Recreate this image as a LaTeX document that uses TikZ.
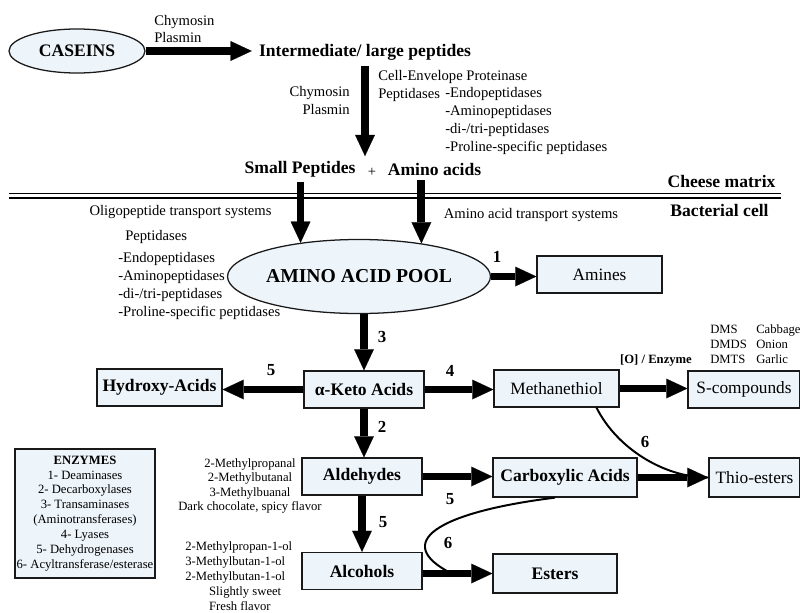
\documentclass[tikz,border=0pt]{standalone}
\usepackage{fontspec}
\setmainfont{Liberation Serif}
\usetikzlibrary{arrows.meta,shapes.geometric}

\definecolor{boxblue}{RGB}{237,244,250}
\newcommand{\boxbf}{\fontsize{12.5}{15}\selectfont\bfseries}
\newcommand{\boxrm}{\fontsize{12.3}{15}\selectfont}
\newcommand{\poolfont}{\fontsize{14}{16}\selectfont\bfseries}
\newcommand{\notefont}{\fontsize{10.4}{12.7}\selectfont}
\newcommand{\tinyfont}{\fontsize{9}{10.2}\selectfont}
\newcommand{\tinysp}{\fontsize{9}{10.6}\selectfont}
\newcommand{\numfont}{\fontsize{12}{14}\selectfont\bfseries}

\tikzset{
  box/.style={draw=black!90, line width=0.9pt, fill=boxblue, inner sep=0pt},
  oval/.style={ellipse, draw=black!90, line width=0.9pt, fill=boxblue, inner sep=0pt},
  bigarrow/.style={line width=5.6pt, -{Triangle[length=15pt,width=14pt,line width=0.1pt]}},
  thinline/.style={line width=1.4pt},
  note/.style={font=\notefont, inner sep=0pt},
  num/.style={font=\numfont, inner sep=0pt}
}

\begin{document}
\begin{tikzpicture}[x=0.025cm,y=-0.025cm]
\useasboundingbox (0,0) rectangle (800,612);

% cheese matrix side
\node[oval, minimum width=3.4cm, minimum height=1.1cm, font=\boxbf] (caseins) at (77,51) {CASEINS};
\node[font=\boxbf, inner xsep=5pt, inner ysep=4pt] (interm) at (365,52) {Intermediate/ large peptides};
\node[note, anchor=west, align=left] (chyA) at (154,29) {Chymosin\\Plasmin};
\node[note, anchor=east, align=right] (chyB) at (350,100.5) {Chymosin\\Plasmin};
\node[note, anchor=west, align=left] (cep) at (378,86) {Cell-Envelope Proteinase\\Peptidases};
\node[note, anchor=west, align=left] (ceplist) at (445,121) {-Endopeptidases\\-Aminopeptidases\\-di-/tri-peptidases\\-Proline-specific peptidases};
\node[font=\boxbf] (small) at (300,169) {Small Peptides};
\node[font=\notefont] (plus) at (372,172) {+};
\node[font=\boxbf] (amac) at (434.5,169) {Amino acids};

\draw[bigarrow] (caseins.east) -- (caseins.east -| interm.west);
\draw[bigarrow] (interm.south) -- (interm.south |- small.north);

% membrane
\draw[line width=1.3pt] (9,193.5) -- (781,193.5);
\draw[line width=1.3pt] (9,198) -- (781,198);
\node[font=\boxbf] (cheese) at (721.5,181) {Cheese matrix};
\node[font=\boxbf] (bact) at (719.5,210) {Bacterial cell};

% bacterial cell
\node[font=\notefont] (oligo) at (180.5,212) {Oligopeptide transport systems};
\node[font=\notefont] (aats) at (531,215) {Amino acid transport systems};
\node[note, anchor=west] (pept) at (125,237) {Peptidases};
\node[note, anchor=west, align=left] (peptlist) at (118,286) {-Endopeptidases\\-Aminopeptidases\\-di-/tri-peptidases\\-Proline-specific peptidases};

\node[oval, minimum width=6.2cm, minimum height=1.85cm, font=\poolfont] (pool) at (359,276.5) {AMINO ACID POOL};
\node[box, minimum width=3.125cm, minimum height=0.925cm, font=\boxrm] (amines) at (599.5,274.5) {Amines};
\node[box, minimum width=3cm, minimum height=0.925cm, font=\boxbf] (keto) at (364,389.5) {α-Keto Acids};
\node[box, minimum width=3.125cm, minimum height=0.925cm, font=\boxbf] (hydroxy) at (159.5,387.5) {Hydroxy-Acids};
\node[box, minimum width=3.125cm, minimum height=0.925cm, font=\boxrm] (meth) at (556.5,388.5) {Methanethiol};
\node[box, minimum width=2.8cm, minimum height=0.925cm, font=\boxrm] (scomp) at (744,389.5) {S-compounds};
\node[box, minimum width=3cm, minimum height=0.925cm, font=\boxbf] (ald) at (362,476.5) {Aldehydes};
\node[box, minimum width=3.6cm, minimum height=0.975cm, font=\boxbf] (carb) at (565,477.5) {Carboxylic Acids};
\node[box, minimum width=2.275cm, minimum height=0.975cm, font=\boxrm] (thio) at (754.5,477.5) {Thio-esters};
\node[box, minimum width=3cm, minimum height=0.925cm, font=\boxbf] (alc) at (362,571) {Alcohols};
\node[box, minimum width=3.1cm, minimum height=0.975cm, font=\boxbf] (est) at (555,573.5) {Esters};

\node[box, minimum width=3.5cm, minimum height=3.225cm, font=\tinysp, align=center] (enz) at (85,513.5)
  {\textbf{ENZYMES}\\1- Deaminases\\2- Decarboxylases\\3- Transaminases\\(Aminotransferases)\\4- Lyases\\5- Dehydrogenases\\6- Acyltransferase/esterase};

\node[font=\tinyfont, align=center, inner sep=0pt] (aldnote) at (250,486) {2-Methylpropanal\\2-Methylbutanal\\3-Methylbuanal\\Dark chocolate, spicy flavor};
\node[font=\tinysp, align=left, anchor=west, inner sep=0pt] (alcnote) at (185,576) {2-Methylpropan-1-ol\\3-Methylbutan-1-ol\\2-Methylbutan-1-ol\\\hspace*{17pt}Slightly sweet\\\hspace*{17pt}Fresh flavor};
\node[font=\tinysp, align=left, anchor=west, inner sep=0pt] (dms) at (710,344) {DMS\\DMDS\\DMTS};
\node[font=\tinysp, align=left, anchor=west, inner sep=0pt] (veg) at (756,344) {Cabbage\\Onion\\Garlic};
\node[font=\fontsize{9}{11}\selectfont\bfseries, inner sep=0pt] (oenz) at (656,360) {[O] / Enzyme};

% pathways
\draw[bigarrow] (small.south -| pool.150) -- (pool.150);
\draw[bigarrow] (amac.south -| pool.28) -- (pool.28);
\draw[bigarrow] (pool.east) -- (pool.east -| amines.west);
\draw[bigarrow] (pool.south -| keto.north) -- (keto.north);
\draw[bigarrow] (keto.west) -- (keto.west -| hydroxy.east);
\draw[bigarrow] (keto.east) -- (keto.east -| meth.west);
\draw[bigarrow] (meth.east) -- (meth.east -| scomp.west);
\draw[bigarrow] (keto.south) -- (keto.south |- ald.north);
\draw[bigarrow] (ald.south) -- (ald.south |- alc.north);
\draw[bigarrow] (ald.east) -- (ald.east -| carb.west);
\draw[bigarrow] (carb.east) -- (carb.east -| thio.west);
\draw[bigarrow] (est.west -| alc.east) -- (est.west);

\draw[thinline] ([xshift=1cm]meth.south) .. controls +(20,40) and +(-45,0) .. (thio.west);
\draw[thinline] ([xshift=-0.25cm]carb.south) .. controls +(-120,15) and +(-58,-30) .. ([xshift=0.7cm,yshift=-0.05cm]alc.east);

\node[num] (n1) at (497,257) {1};
\node[num] (n3) at (382,337) {3};
\node[num] (n5a) at (271,370) {5};
\node[num] (n4) at (450,371) {4};
\node[num] (n2) at (382,427) {2};
\node[num] (n5b) at (383,522) {5};
\node[num] (n5c) at (450,499) {5};
\node[num] (n6a) at (645,442) {6};
\node[num] (n6b) at (448,543) {6};

\end{tikzpicture}
\end{document}
